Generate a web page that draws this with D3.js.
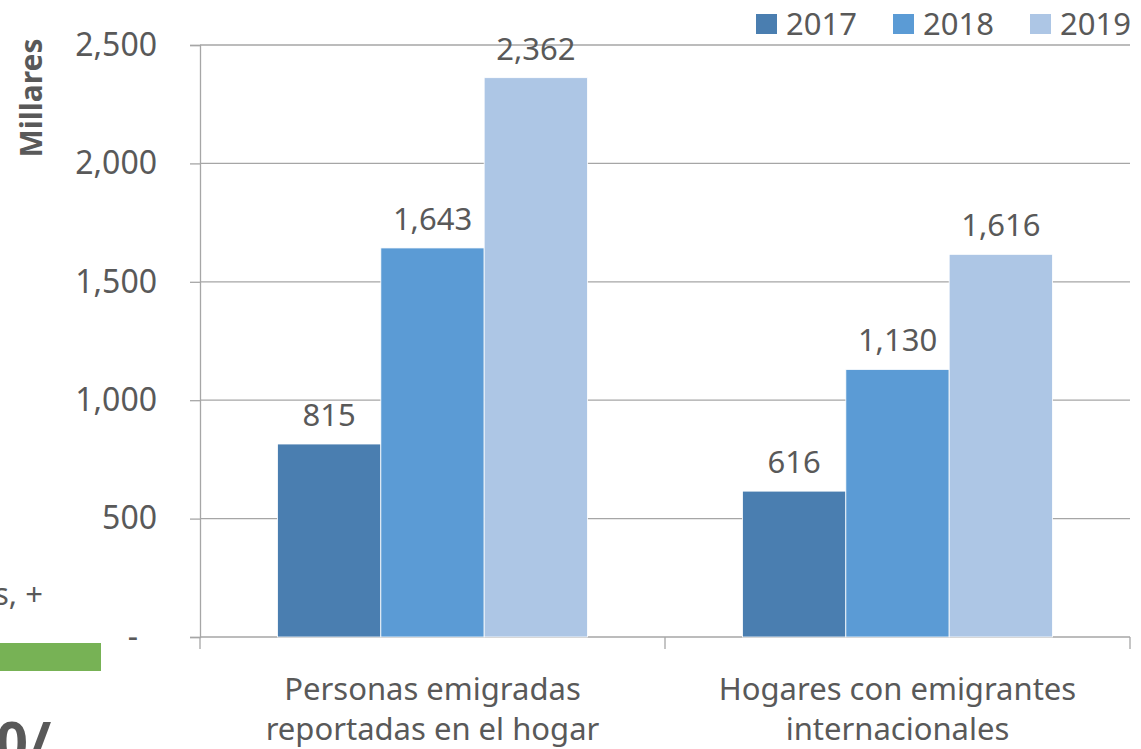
<!DOCTYPE html>
<html><head><meta charset="utf-8">
<script src="https://cdn.jsdelivr.net/npm/d3@7"></script>
<style>body{margin:0;background:#fff;}svg{display:block;}text{font-family:"Noto Sans",sans-serif;fill:#595959;}</style>
</head><body>
<svg id="c" width="1141" height="749"></svg>
<script>
const categories = [["Personas emigradas","reportadas en el hogar"],["Hogares con emigrantes","internacionales"]];
const years = ["2017","2018","2019"];
const values2017 = [815, 616];
const values2018 = [1643, 1130];
const values2019 = [2362, 1616];
const tickValues = [0, 500, 1000, 1500, 2000, 2500];
const colors = ["#4a7eb0", "#5b9bd5", "#adc6e5"];
const series = [values2017, values2018, values2019];

const svg = d3.select("#c");
const x0 = d3.scaleBand().domain(d3.range(categories.length)).range([200, 1130]).paddingInner(0).paddingOuter(0);
const x1 = d3.scaleBand().domain(d3.range(years.length)).range([0, x0.bandwidth()]).paddingOuter(0.75).paddingInner(0);
const y = d3.scaleLinear().domain([0, 2500]).range([637, 45]);
const fmt = d3.format(",");

// gridlines
svg.append("g").selectAll("line").data(tickValues.filter(d=>d>0)).join("line")
  .attr("x1", 200).attr("x2", 1130).attr("y1", d=>y(d)).attr("y2", d=>y(d))
  .attr("stroke", "#a6a6a6").attr("stroke-width", 1.3);

// y axis
const ya = svg.append("g").attr("transform","translate(200,0)")
  .call(d3.axisLeft(y).tickValues(tickValues).tickSize(10).tickPadding(33).tickFormat(d=>d===0?"-":fmt(d)));
ya.select(".domain").attr("stroke","#a6a6a6").attr("stroke-width",1.3);
ya.selectAll(".tick line").attr("stroke","#a6a6a6").attr("stroke-width",1.3);
ya.selectAll(".tick text").attr("font-size",32).attr("fill","#595959").style("font-family","'Noto Sans',sans-serif");
ya.selectAll(".tick text").filter(d=>d===0).attr("dx",-19);

// x axis
svg.append("line").attr("x1",200).attr("x2",1130).attr("y1",y(0)).attr("y2",y(0)).attr("stroke","#a6a6a6").attr("stroke-width",1.3);
svg.append("g").selectAll("line").data([0,1,2]).join("line")
  .attr("x1",(d)=>d<2?x0(d):x0(1)+x0.bandwidth()).attr("x2",(d)=>d<2?x0(d):x0(1)+x0.bandwidth())
  .attr("y1",y(0)).attr("y2",y(0)+12).attr("stroke","#a6a6a6").attr("stroke-width",1.3);

// bars
categories.forEach((cat, ci) => {
  const g = svg.append("g").attr("transform",`translate(${x0(ci)},0)`);
  series.forEach((s, si) => {
    g.append("rect").attr("x", x1(si)).attr("width", x1.bandwidth())
      .attr("y", y(s[ci])).attr("height", y(0)-y(s[ci])).attr("fill", colors[si])
      .attr("stroke","#fff").attr("stroke-width",0.8);
    g.append("text").attr("x", x1(si)+x1.bandwidth()/2).attr("y", y(s[ci])-18)
      .attr("text-anchor","middle").attr("font-size",31).text(fmt(s[ci]));
  });
  const t = svg.append("text").attr("x", x0(ci)+x0.bandwidth()/2).attr("text-anchor","middle").attr("font-size",31);
  t.append("tspan").attr("x", x0(ci)+x0.bandwidth()/2).attr("y", 700).text(cat[0]);
  t.append("tspan").attr("x", x0(ci)+x0.bandwidth()/2).attr("y", 740).text(cat[1]);
});

// y title
svg.append("text").attr("transform","translate(42,98) rotate(-90)").attr("text-anchor","middle")
  .attr("font-size",30).attr("font-weight","bold").text("Millares");

// legend
const legX = [756, 893, 1030];
years.forEach((yr, i) => {
  svg.append("rect").attr("x", legX[i]).attr("y", 14).attr("width", 21).attr("height", 20).attr("fill", colors[i]);
  svg.append("text").attr("x", legX[i]+30).attr("y", 35).attr("font-size",31).text(yr);
});

// cropped neighbour-slide fragments at bottom left
svg.append("text").attr("x",-6).attr("y",605).attr("font-size",31).attr("fill","#7f7f7f").text("s, +");
svg.append("rect").attr("x",0).attr("y",643).attr("width",101).attr("height",28).attr("fill","#77b255");
svg.append("text").attr("x",-4).attr("y",762).attr("font-size",56).attr("font-weight","bold").attr("fill","#595959").text("0/");
</script>
</body></html>
